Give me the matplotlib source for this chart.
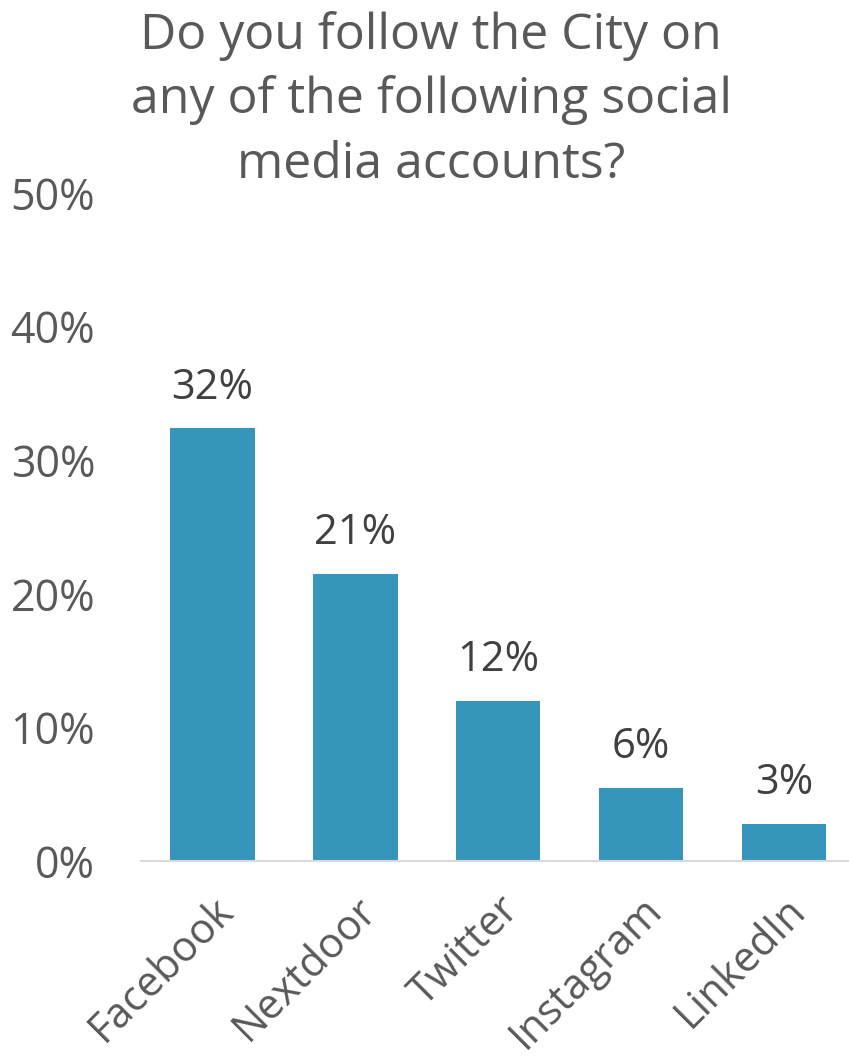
import matplotlib
matplotlib.use("Agg")
import matplotlib.pyplot as plt
from matplotlib.ticker import FuncFormatter

categories = ["Facebook", "Nextdoor", "Twitter", "Instagram", "LinkedIn"]
values = [32.4, 21.5, 12.0, 5.5, 2.8]
value_labels = ["32%", "21%", "12%", "6%", "3%"]
yticks = [0, 10, 20, 30, 40, 50]

plt.rcParams['font.family'] = ['Open Sans', 'DejaVu Sans']

fig = plt.figure(figsize=(8.49, 10.60), dpi=100)
ax = fig.add_axes([141/849, 1 - 861/1060, 714.5/849, (861-193)/1060])

x = list(range(len(categories)))
ax.bar(x, values, width=0.59, color="#3595BA", zorder=2)
ax.set_xlim(-0.5, 4.5)
ax.set_ylim(0, 50)
ax.set_yticks(yticks)
ax.yaxis.set_major_formatter(FuncFormatter(lambda v, p: f"{int(v)}%"))
ax.tick_params(axis='y', length=0, pad=33, labelsize=31, labelcolor="#595959")
ax.tick_params(axis='x', length=0, pad=20)
ax.set_xticks(x)
ax.set_xticklabels(categories, rotation=45, ha='right', va='top',
                   rotation_mode='anchor', fontsize=30, color="#595959")

for s in ['top', 'right', 'left']:
    ax.spines[s].set_visible(False)
ax.spines['bottom'].set_color("#D9D9D9")
ax.spines['bottom'].set_linewidth(1.5)

for xi, v, lab in zip(x, values, value_labels):
    ax.annotate(lab, (xi, v), xytext=(0, 14), textcoords='offset points',
                ha='center', va='bottom', fontsize=30, color="#404040")

fig.text(0.508, 0.990, "Do you follow the City on\nany of the following social\nmedia accounts?",
         ha='center', va='top', fontsize=36, color="#595959", linespacing=1.39)

fig.savefig("out.png", dpi=100)
